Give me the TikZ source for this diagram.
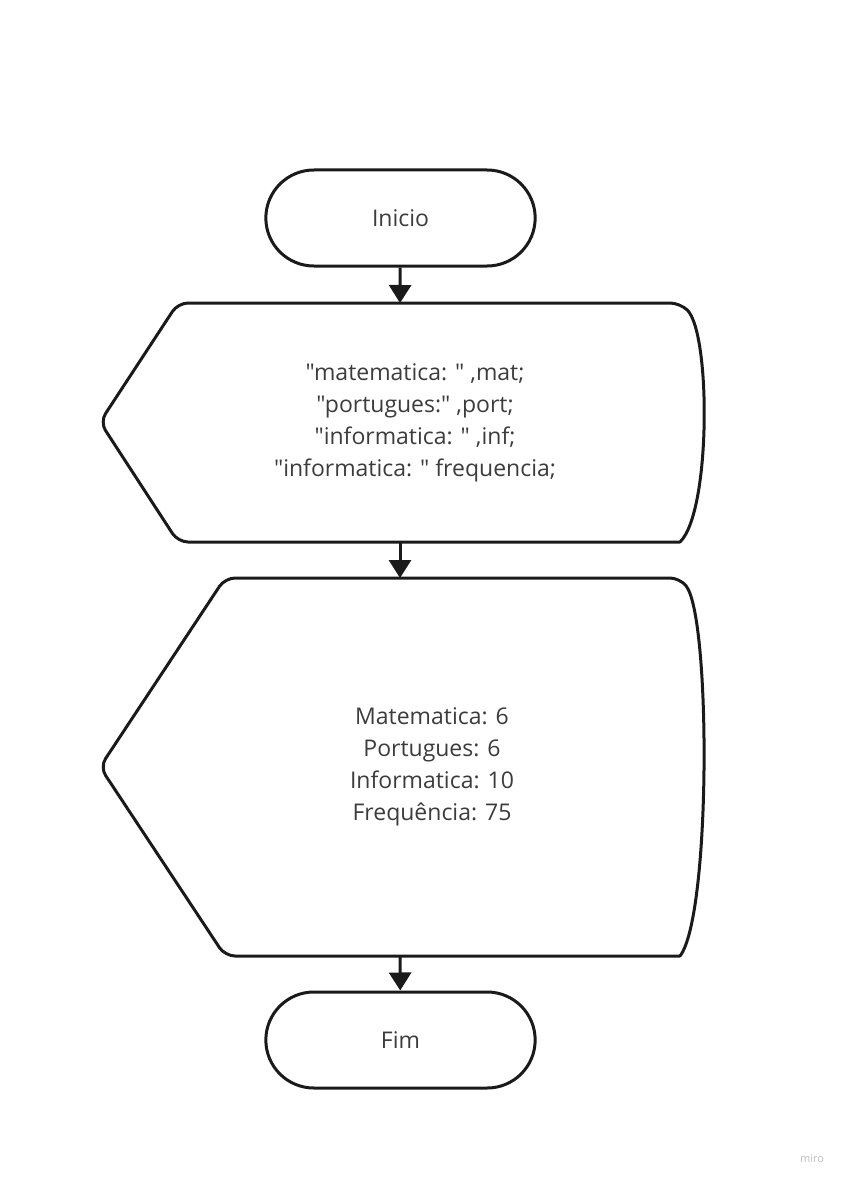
\documentclass[tikz,border=0pt]{standalone}
\usepackage{fontspec}
\newfontfamily\fonte{Open Sans}
\usetikzlibrary{shapes.misc,arrows.meta,positioning}
\definecolor{traco}{RGB}{26,26,26}
\definecolor{texto}{RGB}{60,60,60}

\begin{document}
\begin{tikzpicture}[x=1pt,y=-1pt,line width=3pt,
  terminal/.style={draw=traco,rounded rectangle,minimum width=276pt,minimum height=96pt,
    text=texto,font=\fonte\fontsize{23}{32}\selectfont},
  rotulo/.style={align=center,text=texto,font=\fonte\fontsize{23}{32}\selectfont},
  tela/.style={draw=traco,rounded corners=10pt,line cap=round},
  seta/.style={draw=traco,-{Triangle[width=22pt,length=18pt]}}]
  \useasboundingbox (0,0) rectangle (845,1182);
  % terminais
  \node[terminal] (inicio) at (400.5,218) {Inicio};
  \node[terminal] (fim) at (400.5,1040) {Fim};
  % entrada
  \path[tela] (680,542) -- (178,542) -- (100,422) -- (178,303) -- (680,303)
    .. controls (711,333) and (711,512) .. (680,542);
  \coordinate (entrada-n) at (400,303);
  \coordinate (entrada-s) at (400,542);
  \node[rotulo] (entrada) at (415,423) {"matematica: " ,mat;\\"portugues:" ,port;\\"informatica: " ,inf;\\"informatica: " frequencia;};
  % saida
  \path[tela] (680,956) -- (225,956) -- (100,767) -- (225,578) -- (680,578)
    .. controls (711,618) and (711,916) .. (680,956);
  \coordinate (saida-n) at (400,578);
  \coordinate (saida-s) at (400,956);
  \node[rotulo] (saida) at (432,767) {Matematica: 6\\Portugues: 6\\Informatica: 10\\Frequência: 75};
  % setas
  \path[seta] (inicio) -- (entrada-n);
  \path[seta] (entrada-s) -- (saida-n);
  \path[seta] (saida-s) -- (fim);
  \node[text=black!25,font=\fonte\fontsize{11}{13}\selectfont] (miro) at (812,1159) {miro};
\end{tikzpicture}
\end{document}
